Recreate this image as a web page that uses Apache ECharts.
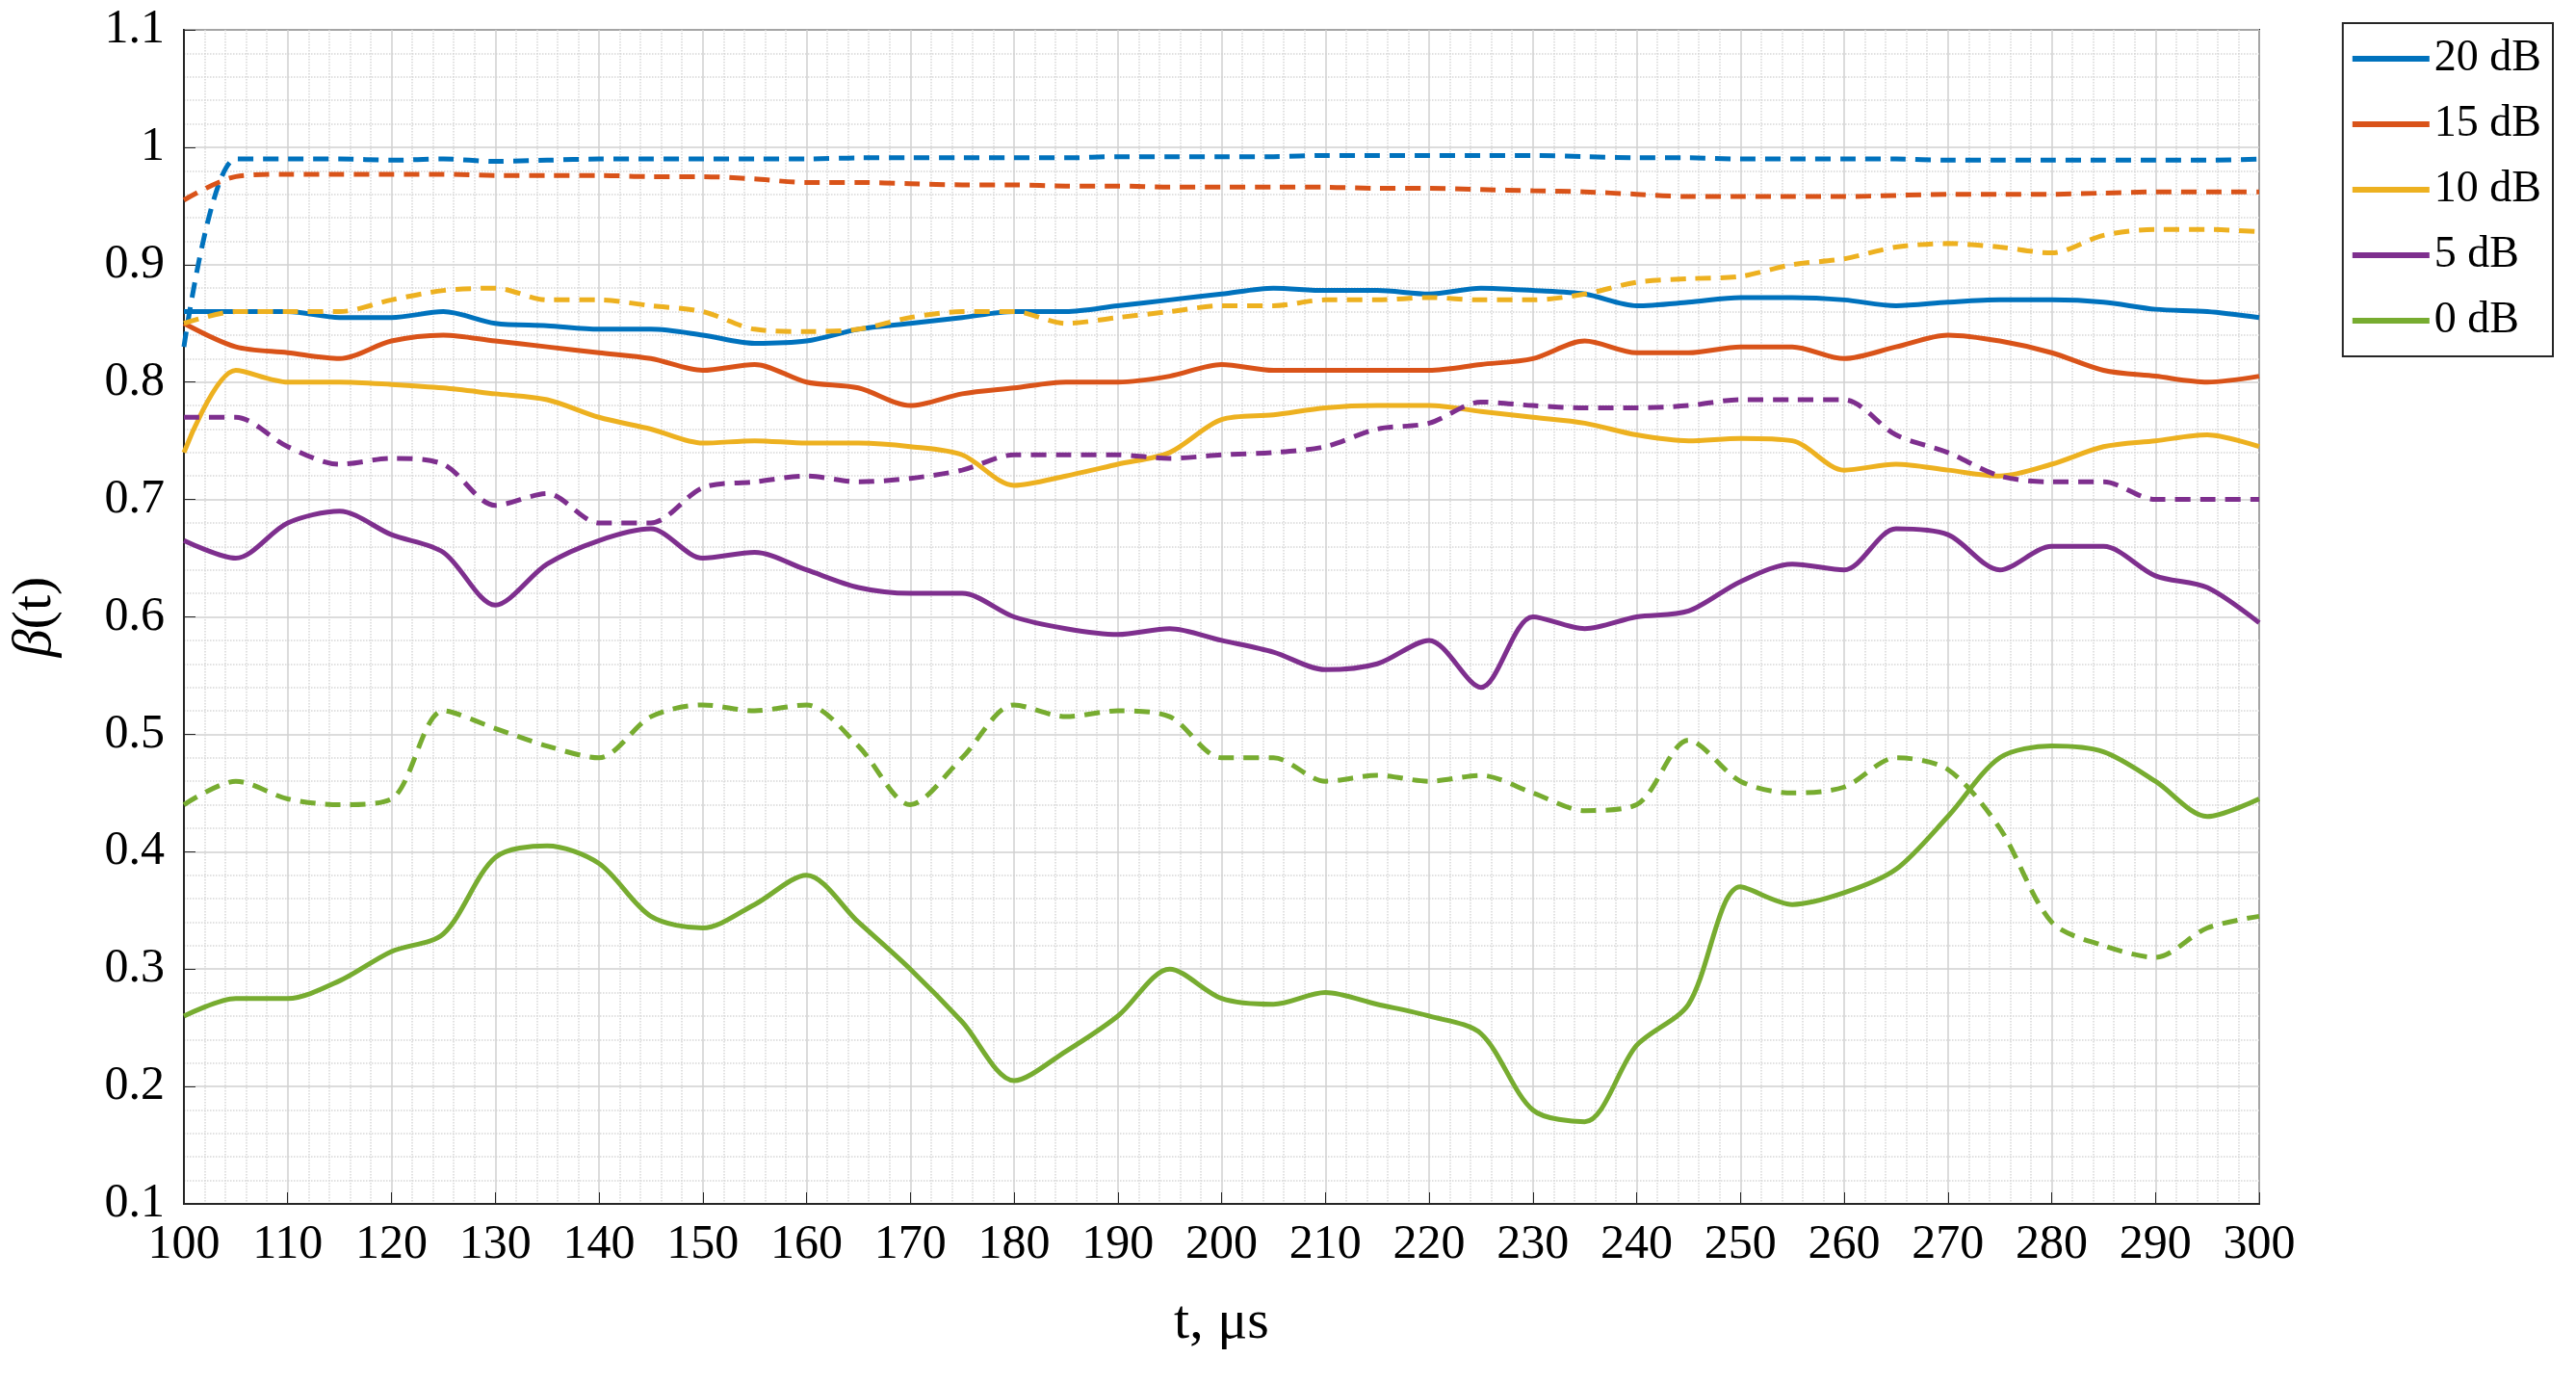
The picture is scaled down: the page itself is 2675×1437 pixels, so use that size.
<!DOCTYPE html>
<html>
<head>
<meta charset="utf-8">
<title>beta(t)</title>
<script src="https://cdn.jsdelivr.net/npm/echarts@6/dist/echarts.min.js"></script>
<style>html,body{margin:0;background:#fff}#main{width:2675px;height:1437px}</style>
</head>
<body>
<div id="main"></div>
<script>
// time axis, step 5 us
var t = [];
for (var k = 100; k <= 300; k += 5) t.push(k);

var db20 = [0.86,0.86,0.86,0.855,0.855,0.86,0.85,0.848,0.845,0.845,0.84,0.833,0.835,0.845,0.85,0.855,0.86,0.86,0.865,0.87,0.875,0.88,0.878,0.878,0.875,0.88,0.878,0.875,0.865,0.868,0.872,0.872,0.87,0.865,0.868,0.87,0.87,0.868,0.862,0.86,0.855];
var db20d = [0.83,0.99,0.99,0.99,0.989,0.99,0.988,0.989,0.99,0.99,0.99,0.99,0.99,0.991,0.991,0.991,0.991,0.991,0.992,0.992,0.992,0.992,0.993,0.993,0.993,0.993,0.993,0.992,0.991,0.991,0.99,0.99,0.99,0.99,0.989,0.989,0.989,0.989,0.989,0.989,0.99];
var db15 = [0.85,0.83,0.825,0.82,0.835,0.84,0.835,0.83,0.825,0.82,0.81,0.815,0.8,0.795,0.78,0.79,0.795,0.8,0.8,0.805,0.815,0.81,0.81,0.81,0.81,0.815,0.82,0.835,0.825,0.825,0.83,0.83,0.82,0.83,0.84,0.835,0.825,0.81,0.805,0.8,0.805];
var db15d = [0.955,0.975,0.977,0.977,0.977,0.977,0.976,0.976,0.976,0.975,0.975,0.973,0.97,0.97,0.969,0.968,0.968,0.967,0.967,0.966,0.966,0.966,0.966,0.965,0.965,0.964,0.963,0.962,0.96,0.958,0.958,0.958,0.958,0.959,0.96,0.96,0.96,0.961,0.962,0.962,0.962];
var db10 = [0.74,0.81,0.8,0.8,0.798,0.795,0.79,0.785,0.77,0.76,0.748,0.75,0.748,0.748,0.745,0.738,0.712,0.72,0.73,0.74,0.768,0.772,0.778,0.78,0.78,0.775,0.77,0.765,0.755,0.75,0.752,0.75,0.725,0.73,0.725,0.72,0.73,0.745,0.75,0.755,0.745];
var db10d = [0.85,0.86,0.86,0.86,0.87,0.878,0.88,0.87,0.87,0.865,0.86,0.845,0.843,0.845,0.855,0.86,0.86,0.85,0.855,0.86,0.865,0.865,0.87,0.87,0.872,0.87,0.87,0.875,0.885,0.888,0.89,0.9,0.905,0.915,0.918,0.915,0.91,0.925,0.93,0.93,0.928];
var db5 = [0.665,0.65,0.68,0.69,0.67,0.655,0.61,0.645,0.665,0.675,0.65,0.655,0.64,0.625,0.62,0.62,0.6,0.59,0.585,0.59,0.58,0.57,0.555,0.56,0.58,0.54,0.6,0.59,0.6,0.605,0.63,0.645,0.64,0.675,0.67,0.64,0.66,0.66,0.635,0.625,0.595];
var db5d = [0.77,0.77,0.745,0.73,0.735,0.73,0.695,0.705,0.68,0.68,0.71,0.715,0.72,0.715,0.718,0.725,0.738,0.738,0.738,0.735,0.738,0.74,0.745,0.76,0.765,0.783,0.78,0.778,0.778,0.78,0.785,0.785,0.785,0.755,0.74,0.72,0.715,0.715,0.7,0.7,0.7];
var db0 = [0.26,0.275,0.275,0.29,0.315,0.33,0.395,0.405,0.39,0.345,0.335,0.355,0.38,0.34,0.3,0.255,0.205,0.23,0.26,0.3,0.275,0.27,0.28,0.27,0.26,0.245,0.18,0.17,0.235,0.27,0.37,0.355,0.365,0.385,0.43,0.48,0.49,0.485,0.46,0.43,0.445];
var db0d = [0.44,0.46,0.445,0.44,0.445,0.52,0.505,0.49,0.48,0.515,0.525,0.52,0.525,0.49,0.44,0.48,0.525,0.515,0.52,0.515,0.48,0.48,0.46,0.465,0.46,0.465,0.45,0.435,0.44,0.495,0.46,0.45,0.455,0.48,0.47,0.42,0.34,0.32,0.31,0.335,0.345];

var names = ['20 dB','15 dB','10 dB','5 dB','0 dB'];
var colors = ['#0072BD','#D95319','#EDB120','#7E2F8E','#77AC30'];
var solid = [db20, db15, db10, db5, db0];
var dashed = [db20d, db15d, db10d, db5d, db0d];

function pairs(arr) { return arr.map(function (v, i) { return [t[i], v]; }); }

var series = [];
names.forEach(function (n, i) {
    series.push({name: n, type: 'line', data: pairs(solid[i]), symbol: 'none', smooth: 0.3,
        lineStyle: {color: colors[i], width: 5}, itemStyle: {color: colors[i]}, z: 3});
    series.push({name: n + ' (d)', type: 'line', data: pairs(dashed[i]), symbol: 'none', smooth: 0.3,
        lineStyle: {color: colors[i], width: 5, type: [16, 10]}, itemStyle: {color: colors[i]}, z: 3});
});

var font = 'Liberation Serif';
var chart = echarts.init(document.getElementById('main'));
chart.setOption({
    animation: false,
    backgroundColor: '#fff',
    grid: {left: 188, right: 329, top: 31, bottom: 187, show: true, borderColor: '#262626', borderWidth: 2},
    legend: {
        data: names, orient: 'vertical', right: 24, top: 24,
        backgroundColor: '#fff', borderColor: '#262626', borderWidth: 2,
        padding: [14, 12, 14, 10], itemGap: 22, itemWidth: 80, itemHeight: 6, icon: 'rect',
        textStyle: {fontFamily: font, fontSize: 46, color: '#000'}
    },
    xAxis: {
        type: 'value', min: 100, max: 300, interval: 10,
        name: 't, μs', nameLocation: 'middle', nameGap: 95,
        nameTextStyle: {fontFamily: font, fontSize: 58, color: '#000'},
        axisLine: {lineStyle: {color: '#262626', width: 2}},
        axisTick: {inside: true, length: 12, lineStyle: {color: '#262626'}},
        axisLabel: {fontFamily: font, fontSize: 50, color: '#000', margin: 18},
        splitLine: {lineStyle: {color: '#d0d0d0', width: 1.5}},
        minorTick: {show: false, splitNumber: 5},
        minorSplitLine: {show: true, lineStyle: {color: '#d8d8d8', type: 'dotted', width: 1.5}}
    },
    yAxis: {
        type: 'value', min: 0.1, max: 1.1, interval: 0.1,
        name: '{i|β}(t)', nameLocation: 'middle', nameGap: 125, nameRotate: 90,
        nameTextStyle: {fontFamily: font, fontSize: 58, color: '#000',
            rich: {i: {fontFamily: font, fontSize: 58, fontStyle: 'italic'}}},
        axisLine: {show: true, lineStyle: {color: '#262626', width: 2}},
        axisTick: {show: true, inside: true, length: 12, lineStyle: {color: '#262626'}},
        axisLabel: {fontFamily: font, fontSize: 50, color: '#000', margin: 20,
            formatter: function (v) { return String(Math.round(v * 10) / 10); }},
        splitLine: {lineStyle: {color: '#d0d0d0', width: 1.5}},
        minorTick: {show: false, splitNumber: 5},
        minorSplitLine: {show: true, lineStyle: {color: '#d8d8d8', type: 'dotted', width: 1.5}}
    },
    series: series
});
</script>
</body>
</html>
